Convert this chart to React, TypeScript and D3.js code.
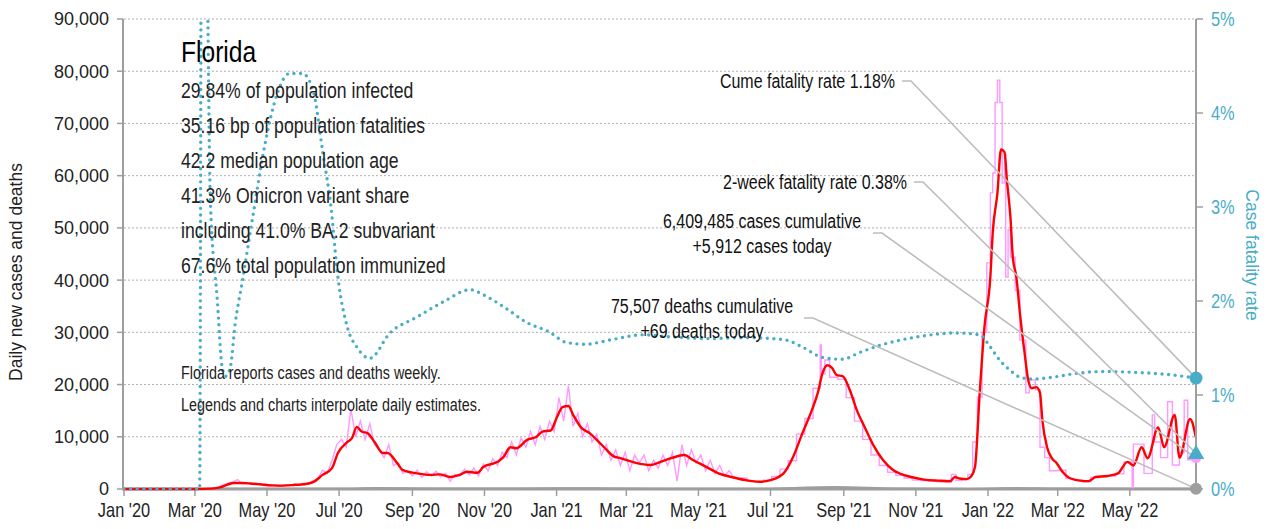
import * as d3 from 'd3';

// 7-day average of new cases (red)
const caseAverage: [string, number][] = [
  ["2020-01-01", 0], ["2020-03-01", 0], ["2020-03-15", 80], ["2020-03-22", 300], ["2020-03-28", 800],
  ["2020-04-03", 1150], ["2020-04-10", 1150], ["2020-04-17", 1050], ["2020-04-25", 900], ["2020-05-05", 700],
  ["2020-05-15", 650], ["2020-05-25", 800], ["2020-06-01", 900], ["2020-06-09", 1300], ["2020-06-17", 2700],
  ["2020-06-25", 4000], ["2020-06-30", 6900], ["2020-07-08", 9000], ["2020-07-12", 9800], ["2020-07-16", 11900],
  ["2020-07-20", 11000], ["2020-07-25", 10700], ["2020-07-31", 9000], ["2020-08-07", 6900], ["2020-08-11", 6900],
  ["2020-08-19", 5000], ["2020-08-24", 3600], ["2020-09-05", 3000], ["2020-09-16", 2700], ["2020-09-24", 2800],
  ["2020-10-03", 2300], ["2020-10-11", 2700], ["2020-10-17", 3300], ["2020-10-26", 3100], ["2020-10-31", 4200],
  ["2020-11-12", 5200], ["2020-11-17", 6100], ["2020-11-23", 8000], ["2020-11-28", 7800], ["2020-12-07", 9400],
  ["2020-12-15", 10000], ["2020-12-20", 11000], ["2020-12-27", 11200], ["2021-01-01", 13600], ["2021-01-06", 15700],
  ["2021-01-11", 15900], ["2021-01-15", 14200], ["2021-01-22", 11700], ["2021-01-29", 10700], ["2021-02-04", 9400],
  ["2021-02-11", 7800], ["2021-02-18", 6300], ["2021-02-24", 5900], ["2021-03-09", 5000], ["2021-03-21", 4600],
  ["2021-03-30", 5200], ["2021-04-08", 5900], ["2021-04-19", 6500], ["2021-04-26", 5600], ["2021-05-08", 4200],
  ["2021-05-18", 3000], ["2021-05-29", 2300], ["2021-06-10", 1700], ["2021-06-22", 1400], ["2021-07-01", 1700],
  ["2021-07-12", 3000], ["2021-07-20", 6100], ["2021-07-28", 10700], ["2021-08-05", 15100], ["2021-08-10", 18400],
  ["2021-08-14", 22200], ["2021-08-18", 23700], ["2021-08-22", 23200], ["2021-08-26", 21800], ["2021-08-31", 21600],
  ["2021-09-06", 19000], ["2021-09-12", 15100], ["2021-09-19", 11700], ["2021-09-26", 8400], ["2021-10-04", 5600],
  ["2021-10-13", 3600], ["2021-10-19", 2900], ["2021-10-28", 2300], ["2021-11-08", 1800], ["2021-11-20", 1600],
  ["2021-11-30", 1500], ["2021-12-04", 2300], ["2021-12-08", 2000], ["2021-12-14", 1900], ["2021-12-18", 2500],
  ["2021-12-21", 4200], ["2021-12-25", 18400], ["2021-12-29", 31000], ["2022-01-03", 40600], ["2022-01-05", 49000],
  ["2022-01-09", 56700], ["2022-01-12", 65000], ["2022-01-15", 64500], ["2022-01-17", 59200], ["2022-01-20", 52000],
  ["2022-01-22", 44400], ["2022-01-25", 40600], ["2022-01-28", 33700], ["2022-02-01", 26000], ["2022-02-04", 20900],
  ["2022-02-07", 19300], ["2022-02-11", 19500], ["2022-02-14", 18400], ["2022-02-16", 13200], ["2022-02-20", 8000],
  ["2022-02-24", 5900], ["2022-02-28", 5000], ["2022-03-05", 3300], ["2022-03-11", 2100], ["2022-03-20", 1600],
  ["2022-03-27", 1500], ["2022-04-02", 2300], ["2022-04-12", 2500], ["2022-04-21", 3000], ["2022-04-29", 5200],
  ["2022-05-04", 4500], ["2022-05-11", 8000], ["2022-05-16", 5900], ["2022-05-25", 11800], ["2022-05-30", 8000],
  ["2022-06-08", 14200], ["2022-06-12", 6000], ["2022-06-21", 13400], ["2022-06-26", 9800],
];

// daily new cases, noisy part (pink)
const casesDaily: [string, number][] = [
  ["2020-01-01", 0], ["2020-03-01", 0], ["2020-03-05", 0], ["2020-03-09", 20], ["2020-03-13", 60], ["2020-03-17", 150],
  ["2020-03-21", 300], ["2020-03-25", 800], ["2020-03-29", 1100], ["2020-04-02", 1300], ["2020-04-06", 1800],
  ["2020-04-10", 1000], ["2020-04-14", 1200], ["2020-04-18", 900], ["2020-04-22", 1100], ["2020-04-26", 800],
  ["2020-04-30", 900], ["2020-05-04", 600], ["2020-05-08", 800], ["2020-05-12", 500], ["2020-05-16", 750],
  ["2020-05-20", 600], ["2020-05-24", 900], ["2020-05-28", 700], ["2020-06-01", 1100], ["2020-06-05", 900],
  ["2020-06-09", 1600], ["2020-06-13", 2000], ["2020-06-17", 3600], ["2020-06-21", 3000], ["2020-06-25", 5500],
  ["2020-06-29", 8500], ["2020-07-03", 9500], ["2020-07-07", 8000], ["2020-07-11", 15300], ["2020-07-15", 10000],
  ["2020-07-19", 13000], ["2020-07-23", 9500], ["2020-07-27", 12500], ["2020-07-31", 8500], ["2020-08-04", 7500],
  ["2020-08-08", 6000], ["2020-08-12", 8500], ["2020-08-16", 4500], ["2020-08-20", 5000], ["2020-08-24", 3000],
  ["2020-08-28", 3500], ["2020-09-01", 2500], ["2020-09-05", 3600], ["2020-09-09", 2200], ["2020-09-13", 3300],
  ["2020-09-17", 2500], ["2020-09-21", 3400], ["2020-09-25", 2300], ["2020-09-29", 3000], ["2020-10-03", 1500],
  ["2020-10-07", 2800], ["2020-10-11", 2500], ["2020-10-15", 3800], ["2020-10-19", 2700], ["2020-10-23", 4000],
  ["2020-10-27", 2500], ["2020-10-31", 4800], ["2020-11-04", 3500], ["2020-11-08", 5800], ["2020-11-12", 4500],
  ["2020-11-16", 7000], ["2020-11-20", 6000], ["2020-11-24", 9000], ["2020-11-28", 6500], ["2020-12-02", 9800],
  ["2020-12-06", 8000], ["2020-12-10", 11000], ["2020-12-14", 8500], ["2020-12-18", 12000], ["2020-12-22", 9500],
  ["2020-12-26", 13000], ["2020-12-30", 11000], ["2021-01-03", 17500], ["2021-01-07", 13000], ["2021-01-11", 19800],
  ["2021-01-15", 12000], ["2021-01-19", 14500], ["2021-01-23", 10000], ["2021-01-27", 12500], ["2021-01-31", 9000],
  ["2021-02-04", 10500], ["2021-02-08", 6500], ["2021-02-12", 8500], ["2021-02-16", 5500], ["2021-02-20", 7500],
  ["2021-02-24", 4500], ["2021-02-28", 7000], ["2021-03-04", 3500], ["2021-03-08", 6500], ["2021-03-12", 5000],
  ["2021-03-16", 6500], ["2021-03-20", 3500], ["2021-03-24", 5500], ["2021-03-28", 4000], ["2021-04-01", 6500],
  ["2021-04-05", 4500], ["2021-04-09", 7000], ["2021-04-13", 1500], ["2021-04-17", 8500], ["2021-04-21", 4500],
  ["2021-04-25", 7500], ["2021-04-29", 5000], ["2021-05-03", 6500], ["2021-05-07", 3500], ["2021-05-11", 5500],
  ["2021-05-15", 3000], ["2021-05-19", 4500], ["2021-05-23", 2500], ["2021-05-27", 3500], ["2021-05-31", 2200],
  ["2021-06-04", 2100],
];

// weekly reported cases spread over the week (pink steps)
const casesWeekly: [string, number][] = [
  ["2021-06-04", 2100], ["2021-06-11", 1500], ["2021-06-18", 1400], ["2021-06-25", 1700], ["2021-07-02", 2400],
  ["2021-07-09", 3800], ["2021-07-16", 5400], ["2021-07-23", 10500], ["2021-07-30", 13500], ["2021-08-06", 19300],
  ["2021-08-12", 27600], ["2021-08-13", 22000], ["2021-08-16", 24700], ["2021-08-20", 21400], ["2021-08-27", 21000],
  ["2021-09-03", 17500], ["2021-09-10", 13000], ["2021-09-17", 9500], ["2021-09-24", 6500], ["2021-10-01", 4500],
  ["2021-10-08", 3200], ["2021-10-15", 2600], ["2021-10-22", 2100], ["2021-10-29", 1700], ["2021-11-05", 1600],
  ["2021-11-12", 1500], ["2021-11-19", 1400], ["2021-11-26", 1300], ["2021-12-01", 2800], ["2021-12-05", 1600],
  ["2021-12-10", 1800], ["2021-12-15", 2800], ["2021-12-19", 9000], ["2021-12-23", 17600], ["2021-12-27", 30000],
  ["2021-12-31", 43300], ["2022-01-03", 56700], ["2022-01-05", 60500], ["2022-01-07", 74000], ["2022-01-09", 78300],
  ["2022-01-11", 74000], ["2022-01-13", 58600], ["2022-01-15", 64000], ["2022-01-16", 40600], ["2022-01-18", 49600],
  ["2022-01-20", 44400], ["2022-01-24", 38000], ["2022-01-28", 28500], ["2022-02-02", 18400], ["2022-02-05", 20900],
  ["2022-02-10", 19000], ["2022-02-14", 8000], ["2022-02-18", 6000], ["2022-02-22", 3500], ["2022-03-01", 3600],
  ["2022-03-08", 2000], ["2022-03-15", 1700], ["2022-03-22", 1400], ["2022-03-29", 2200], ["2022-04-05", 2400],
  ["2022-04-12", 2500], ["2022-04-19", 2900], ["2022-04-26", 5200], ["2022-05-03", 300], ["2022-05-04", 8600],
  ["2022-05-13", 3000], ["2022-05-20", 14200], ["2022-05-22", 9000], ["2022-05-27", 6000], ["2022-06-02", 16700],
  ["2022-06-06", 4600], ["2022-06-12", 7000], ["2022-06-16", 17000], ["2022-06-19", 5600], ["2022-06-26", 5912],
];

// daily deaths (grey, near zero on this scale)
const deathsDaily: [string, number][] = [
  ["2020-01-01", 0], ["2020-03-10", 0], ["2020-04-15", 50], ["2020-07-01", 50], ["2020-08-01", 180],
  ["2020-09-15", 100], ["2020-12-01", 90], ["2021-01-15", 160], ["2021-03-01", 100], ["2021-06-15", 40],
  ["2021-08-25", 370], ["2021-10-15", 100], ["2021-12-15", 20], ["2022-01-25", 170], ["2022-03-01", 80],
  ["2022-06-26", 30],
];

// case fatality rate, % (right axis)
const fatalityRate: [string, number][] = [
  ["2020-01-01", 0], ["2020-03-05", 0], ["2020-03-07", 9], ["2020-03-10", 7.5], ["2020-03-12", 5],
  ["2020-03-14", 3.1], ["2020-03-20", 2.0], ["2020-03-24", 1.3], ["2020-03-27", 1.2], ["2020-03-31", 1.3],
  ["2020-04-04", 1.75], ["2020-04-10", 2.2], ["2020-04-19", 2.9], ["2020-04-29", 3.65], ["2020-05-10", 4.22],
  ["2020-05-20", 4.42], ["2020-05-31", 4.42], ["2020-06-09", 4.24], ["2020-06-17", 3.6], ["2020-06-25", 2.9],
  ["2020-06-29", 2.36], ["2020-07-08", 1.72], ["2020-07-16", 1.51], ["2020-07-27", 1.39], ["2020-08-13", 1.66],
  ["2020-09-05", 1.83], ["2020-09-27", 1.99], ["2020-10-20", 2.12], ["2020-11-01", 2.06], ["2020-11-17", 1.94],
  ["2020-12-07", 1.77], ["2020-12-26", 1.67], ["2021-01-09", 1.56], ["2021-01-25", 1.54], ["2021-02-17", 1.59],
  ["2021-03-14", 1.64], ["2021-04-06", 1.62], ["2021-05-08", 1.6], ["2021-06-10", 1.61], ["2021-07-12", 1.59],
  ["2021-07-28", 1.51], ["2021-08-14", 1.4], ["2021-08-30", 1.38], ["2021-09-16", 1.46], ["2021-10-02", 1.53],
  ["2021-11-03", 1.62], ["2021-12-05", 1.66], ["2021-12-25", 1.64], ["2022-01-03", 1.51], ["2022-01-11", 1.37],
  ["2022-01-20", 1.26], ["2022-01-28", 1.19], ["2022-02-08", 1.17], ["2022-02-25", 1.19], ["2022-03-17", 1.23],
  ["2022-04-08", 1.25], ["2022-05-07", 1.24], ["2022-06-01", 1.22], ["2022-06-26", 1.18],
];

const caseTicks = [0, 10000, 20000, 30000, 40000, 50000, 60000, 70000, 80000, 90000];
const rateTicks = [0, 1, 2, 3, 4, 5];

const stats = [
  "29.84% of population infected",
  "35.16 bp of population fatalities",
  "42.2 median population age",
  "41.3% Omicron variant share",
  "including 41.0% BA.2 subvariant",
  "67.6% total population immunized",
];
const notes = ["Florida reports cases and deaths weekly.", "Legends and charts interpolate daily estimates."];

const latest = { cume: 1.18, twoWeek: 0.38, cases: 5912, deaths: 69 };

const SANS = "'Liberation Sans', Arial, sans-serif";
const CYAN = "#4aadc8";
const PINK = "#ff99ff";
const GREY = "#9e9e9e";
const LEADER = "#bdbdbd";

// no narrow face is installed, so squeeze Liberation Sans horizontally
const Narrow = ({ x, y, size, anchor = "start", fill = "#222", children }: any) => (
  <text transform={`translate(${x},${y}) scale(0.82,1)`} textAnchor={anchor}
    fontFamily={SANS} fontSize={size} fill={fill}>{children}</text>
);

export default function App() {
  const width = 1283;
  const height = 529;
  const left = 124, right = 1196, top = 19, bottom = 489;

  const parse = d3.timeParse("%Y-%m-%d");
  const x = d3.scaleTime()
    .domain([parse("2020-01-01")!, parse("2022-06-26")!])
    .range([left, right]);
  const y = d3.scaleLinear().domain([0, 90000]).range([bottom, top]);
  const yR = d3.scaleLinear().domain([0, 5]).range([bottom, top]);

  const caseLine = (curve: d3.CurveFactory) =>
    d3.line<[string, number]>().x(d => x(parse(d[0])!)).y(d => y(d[1])).curve(curve);
  const rateLine = d3.line<[string, number]>()
    .x(d => x(parse(d[0])!)).y(d => yR(d[1])).curve(d3.curveMonotoneX);

  const monthTicks = x.ticks(d3.timeMonth.every(2)!);
  const fmtMonth = d3.timeFormat("%b '%y");
  const fmtNum = d3.format(",");

  const ex = right;
  const yCume = yR(latest.cume);
  const yTwo = yR(latest.twoWeek);
  const yCases = y(latest.cases);
  const yDeaths = y(latest.deaths);
  const tri = d3.symbol().type(d3.symbolTriangle).size(120)();

  const leaders = [
    { x0: 902, y0: 81, tx: yCume },
    { x0: 914, y0: 182, tx: yTwo },
    { x0: 873, y0: 233, tx: yCases },
    { x0: 804, y0: 318, tx: yDeaths },
  ];

  return (
    <svg width={width} height={height} style={{ position: 'absolute', left: 0, top: 0, background: '#fff' }}>
      <defs>
        <clipPath id="plot">
          <rect x={left} y={top} width={right - left} height={bottom - top + 3} />
        </clipPath>
      </defs>

      {caseTicks.filter(t => t > 0).map(t => (
        <line key={t} x1={left} x2={right} y1={y(t)} y2={y(t)}
          stroke="#b0b0b0" strokeWidth={1} strokeDasharray="2 2" />
      ))}

      {/* bottom axis line sits under the series */}
      <line x1={left - 2} x2={right} y1={bottom} y2={bottom} stroke={GREY} strokeWidth={3} />
      {monthTicks.map(d => (
        <g key={+d}>
          <line x1={x(d)} x2={x(d)} y1={bottom} y2={bottom + 7} stroke={GREY} strokeWidth={1.5} />
          <Narrow x={x(d)} y={bottom + 28} size={20} anchor="middle" fill="#222">{fmtMonth(d)}</Narrow>
        </g>
      ))}

      <g clipPath="url(#plot)">
        <path d={caseLine(d3.curveMonotoneX)(deathsDaily)!} fill="none" stroke={GREY} strokeWidth={2} />
        <path d={caseLine(d3.curveLinear)(casesDaily)!} fill="none" stroke={PINK} strokeWidth={1.4} />
        <path d={caseLine(d3.curveStepAfter)(casesWeekly)!} fill="none" stroke={PINK} strokeWidth={1.4} />
        <path d={caseLine(d3.curveMonotoneX)(caseAverage)!} fill="none" stroke="#ff0000" strokeWidth={2.4} />
        <path d={rateLine(fatalityRate)!} fill="none" stroke={CYAN} strokeWidth={3.4}
          strokeDasharray="0 6.6" strokeLinecap="round" />
      </g>

      {/* left axis */}
      <line x1={left - 1} x2={left - 1} y1={top} y2={bottom} stroke={GREY} strokeWidth={2} />
      {caseTicks.map(t => (
        <g key={t}>
          <line x1={left - 7} x2={left - 1} y1={y(t)} y2={y(t)} stroke={GREY} strokeWidth={1.5} />
          <text x={left - 15} y={y(t)} dy="0.36em" textAnchor="end" fontFamily={SANS} fontSize={18} fill="#222">
            {fmtNum(t)}
          </text>
        </g>
      ))}
      <text transform={`translate(22,${(top + bottom) / 2 + 18}) rotate(-90)`} textAnchor="middle"
        fontFamily={SANS} fontSize={17.5} fill="#222">Daily new cases and deaths</text>

      {/* right axis */}
      <line x1={right} x2={right} y1={top} y2={bottom} stroke={GREY} strokeWidth={2} />
      {rateTicks.map(t => (
        <g key={t}>
          <line x1={right} x2={right + 7} y1={yR(t)} y2={yR(t)} stroke={GREY} strokeWidth={1.5} />
          <Narrow x={right + 15} y={yR(t) + 7} size={20} fill={CYAN}>{t}%</Narrow>
        </g>
      ))}
      <text transform={`translate(1246,${255}) rotate(90)`} textAnchor="middle"
        fontFamily={SANS} fontSize={17.5} fill={CYAN}>Case fatality rate</text>

      {/* leader lines */}
      {leaders.map((l, i) => (
        <polyline key={i} points={`${l.x0},${l.y0} ${l.x0 + 9},${l.y0} ${ex},${l.tx}`}
          fill="none" stroke={LEADER} strokeWidth={1.6} />
      ))}

      {/* latest markers */}
      <circle cx={ex} cy={yDeaths} r={6} fill={GREY} />
      <circle cx={ex} cy={yCases} r={5} fill={PINK} />
      <path d={tri!} transform={`translate(${ex},${yTwo + 1})`} fill={CYAN} />
      <circle cx={ex} cy={yCume} r={6.5} fill={CYAN} />

      {/* annotations */}
      <Narrow x={895} y={88} size={19.5} anchor="end" fill="#111">Cume fatality rate {latest.cume.toFixed(2)}%</Narrow>
      <Narrow x={907} y={189} size={19.5} anchor="end" fill="#111">2-week fatality rate {latest.twoWeek.toFixed(2)}%</Narrow>
      <Narrow x={762} y={228} size={19.5} anchor="middle" fill="#111">6,409,485 cases cumulative</Narrow>
      <Narrow x={762} y={253} size={19.5} anchor="middle" fill="#111">+{fmtNum(latest.cases)} cases today</Narrow>
      <Narrow x={702} y={313} size={19.5} anchor="middle" fill="#111">75,507 deaths cumulative</Narrow>
      <Narrow x={702} y={338} size={19.5} anchor="middle" fill="#111">+{latest.deaths} deaths today</Narrow>

      <Narrow x={181} y={62} size={30} fill="#000">Florida</Narrow>
      {stats.map((s, i) => (
        <Narrow key={i} x={181} y={98 + i * 35} size={21.5}>{s}</Narrow>
      ))}
      {notes.map((s, i) => (
        <Narrow key={i} x={181} y={379 + i * 32} size={17.5}>{s}</Narrow>
      ))}
    </svg>
  );
}
